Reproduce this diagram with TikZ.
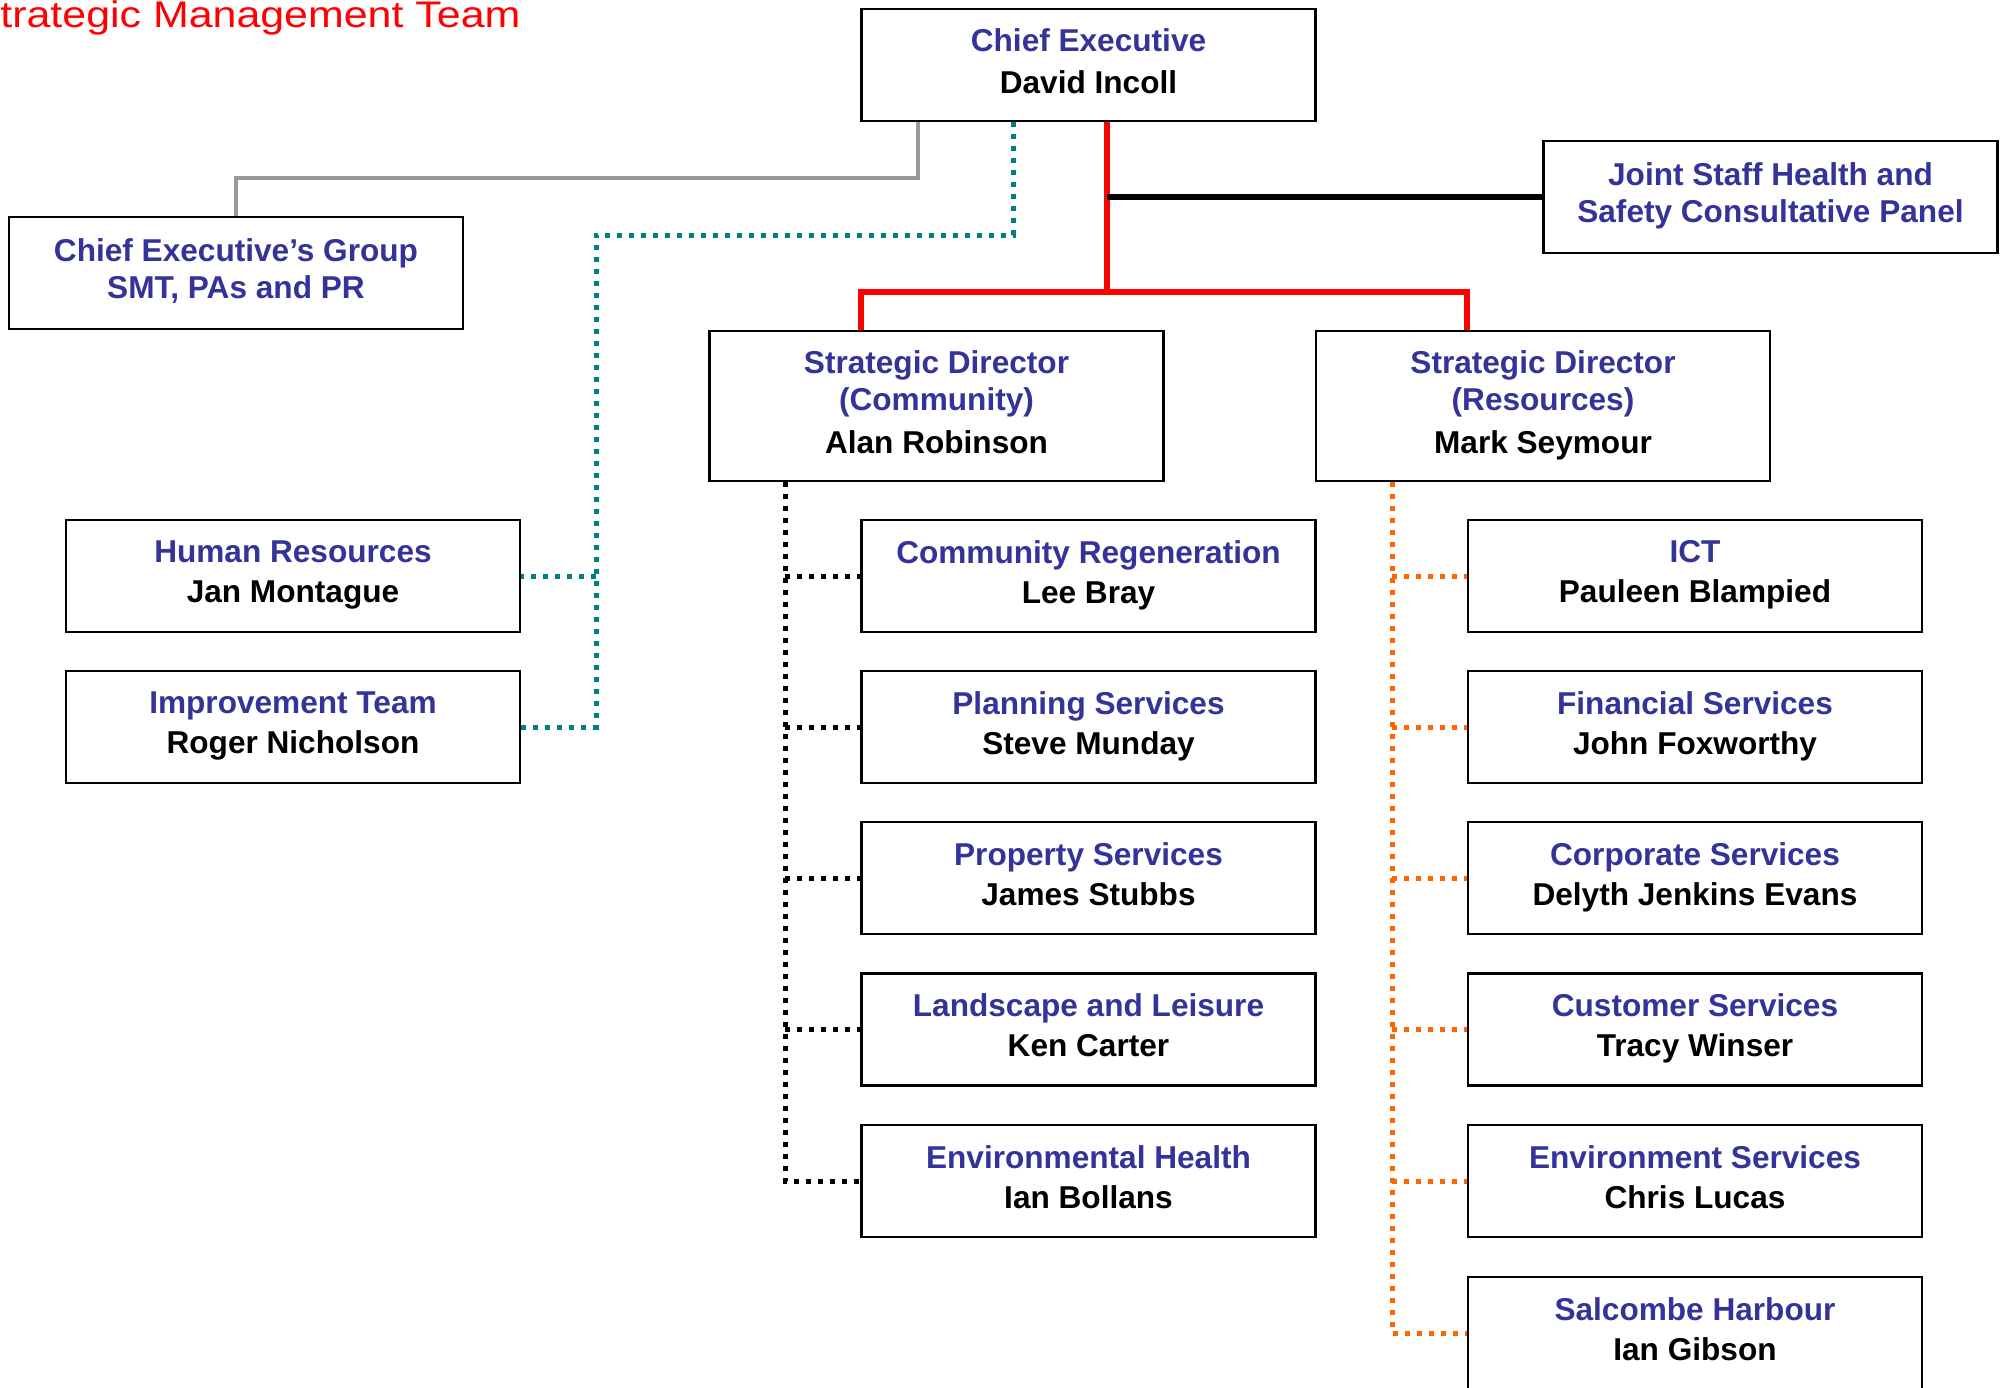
\documentclass[tikz,border=0pt]{standalone}
\usepackage{fontspec}
\setmainfont{Liberation Sans}
\newfontfamily\titlefont[FakeStretch=1.16]{Liberation Sans}
\definecolor{sdblue}{RGB}{51,51,153}
\definecolor{tealc}{RGB}{0,128,128}
\definecolor{orangec}{RGB}{255,102,0}
\definecolor{grayc}{RGB}{153,153,153}
\newcommand\dpstrut{\rule[-4.3pt]{0pt}{4.3pt}}
\begin{document}
\begin{tikzpicture}[x=0.5pt,y=-0.5pt,
  box/.style={draw=black,line width=1.1pt,fill=white,minimum width=227pt,minimum height=56pt,inner sep=0pt,align=center,font=\bfseries\fontsize{15.8}{18.5}\selectfont,text=black},
  tallbox/.style={box,minimum height=75pt},
  redline/.style={draw=red,line width=2.7pt,line join=miter},
  blackline/.style={draw=black,line width=2.6pt},
  grayline/.style={draw=grayc,line width=2.4pt,line join=miter},
  dotline/.style={line width=2.5pt,dash pattern=on 2.5pt off 3.5pt},
  tealdot/.style={dotline,draw=tealc},
  blackdot/.style={dotline,draw=black},
  orangedot/.style={dotline,draw=orangec}
]
\useasboundingbox (0,0) rectangle (2002,1387);
\fill[white] (0,0) rectangle (2002,1387);

% title
\node[anchor=base west,inner sep=0pt,text=red,font=\titlefont\fontsize{18.5}{20}\selectfont] (title) at (0,27.3) {trategic Management Team};

% top level
\node[box] (ce) at (1088.5,65) {\textcolor{sdblue}{Chief Executive}\\[2.5pt]David Incoll\dpstrut};
\node[box] (ceg) at (236,273) {\textcolor{sdblue}{Chief Executive’s Group}\\\textcolor{sdblue}{SMT, PAs and PR}\dpstrut};
\node[box] (joint) at (1770.5,197) {\textcolor{sdblue}{Joint Staff Health and}\\\textcolor{sdblue}{Safety Consultative Panel}\dpstrut};
\node[tallbox] (sdc) at (936.5,406) {\textcolor{sdblue}{Strategic Director}\\\textcolor{sdblue}{(Community)}\\[3pt]Alan Robinson\dpstrut};
\node[tallbox] (sdr) at (1543,406) {\textcolor{sdblue}{Strategic Director}\\\textcolor{sdblue}{(Resources)}\\[3pt]Mark Seymour\dpstrut};

% left column
\node[box] (hr) at (293,576) {\textcolor{sdblue}{Human Resources}\\[1.5pt]Jan Montague\dpstrut};
\node[box] (it) at (293,727) {\textcolor{sdblue}{Improvement Team}\\[1.5pt]Roger Nicholson\dpstrut};

% middle column
\node[box] (m1) at (1088.5,576) {\textcolor{sdblue}{Community Regeneration}\\[1.5pt]Lee Bray\dpstrut};
\node[box] (m2) at (1088.5,727) {\textcolor{sdblue}{Planning Services}\\[1.5pt]Steve Munday\dpstrut};
\node[box] (m3) at (1088.5,878) {\textcolor{sdblue}{Property Services}\\[1.5pt]James Stubbs\dpstrut};
\node[box] (m4) at (1088.5,1029.5) {\textcolor{sdblue}{Landscape and Leisure}\\[1.5pt]Ken Carter\dpstrut};
\node[box] (m5) at (1088.5,1181) {\textcolor{sdblue}{Environmental Health}\\[1.5pt]Ian Bollans\dpstrut};

% right column
\node[box] (r1) at (1695,576) {\textcolor{sdblue}{ICT}\\[1.5pt]Pauleen Blampied\dpstrut};
\node[box] (r2) at (1695,727) {\textcolor{sdblue}{Financial Services}\\[1.5pt]John Foxworthy\dpstrut};
\node[box] (r3) at (1695,878) {\textcolor{sdblue}{Corporate Services}\\[1.5pt]Delyth Jenkins Evans\dpstrut};
\node[box] (r4) at (1695,1029.5) {\textcolor{sdblue}{Customer Services}\\[1.5pt]Tracy Winser\dpstrut};
\node[box] (r5) at (1695,1181) {\textcolor{sdblue}{Environment Services}\\[1.5pt]Chris Lucas\dpstrut};
\node[box] (r6) at (1695,1333) {\textcolor{sdblue}{Salcombe Harbour}\\[1.5pt]Ian Gibson\dpstrut};

% helper coordinates
\coordinate (jr) at (1107,292);
\coordinate (redL) at (861,0);
\coordinate (redR) at (1467,0);
\coordinate (grayX) at (918,0);
\coordinate (grayY) at (0,178);
\coordinate (tealX) at (1013,0);
\coordinate (tealY) at (0,235);
\coordinate (tealT) at (596,0);
\coordinate (ctrunk) at (785,0);
\coordinate (otrunk) at (1392,0);

% red
\draw[redline] (ce.south -| jr) -- (jr);
\draw[redline] (sdc.north -| redL) |- (jr) -| (sdr.north -| redR);
% black solid
\draw[blackline] (jr |- joint.west) -- (joint.west);
% gray
\draw[grayline] (ce.south -| grayX) -- (grayX |- grayY) -| (ceg.north);
% teal
\draw[tealdot] (ce.south -| tealX) -- (tealX |- tealY) -| (tealT |- it.east) -- (it.east);
\draw[tealdot] (tealT |- hr.east) -- (hr.east);
% black dotted
\draw[blackdot] (sdc.south -| ctrunk) -- (ctrunk |- m5.west) -- (m5.west);
\foreach \n in {m1,m2,m3,m4} \draw[blackdot] (ctrunk |- \n.west) -- (\n.west);
% orange dotted
\draw[orangedot] (sdr.south -| otrunk) -- (otrunk |- r6.west) -- (r6.west);
\foreach \n in {r1,r2,r3,r4,r5} \draw[orangedot] (otrunk |- \n.west) -- (\n.west);
\end{tikzpicture}
\end{document}
